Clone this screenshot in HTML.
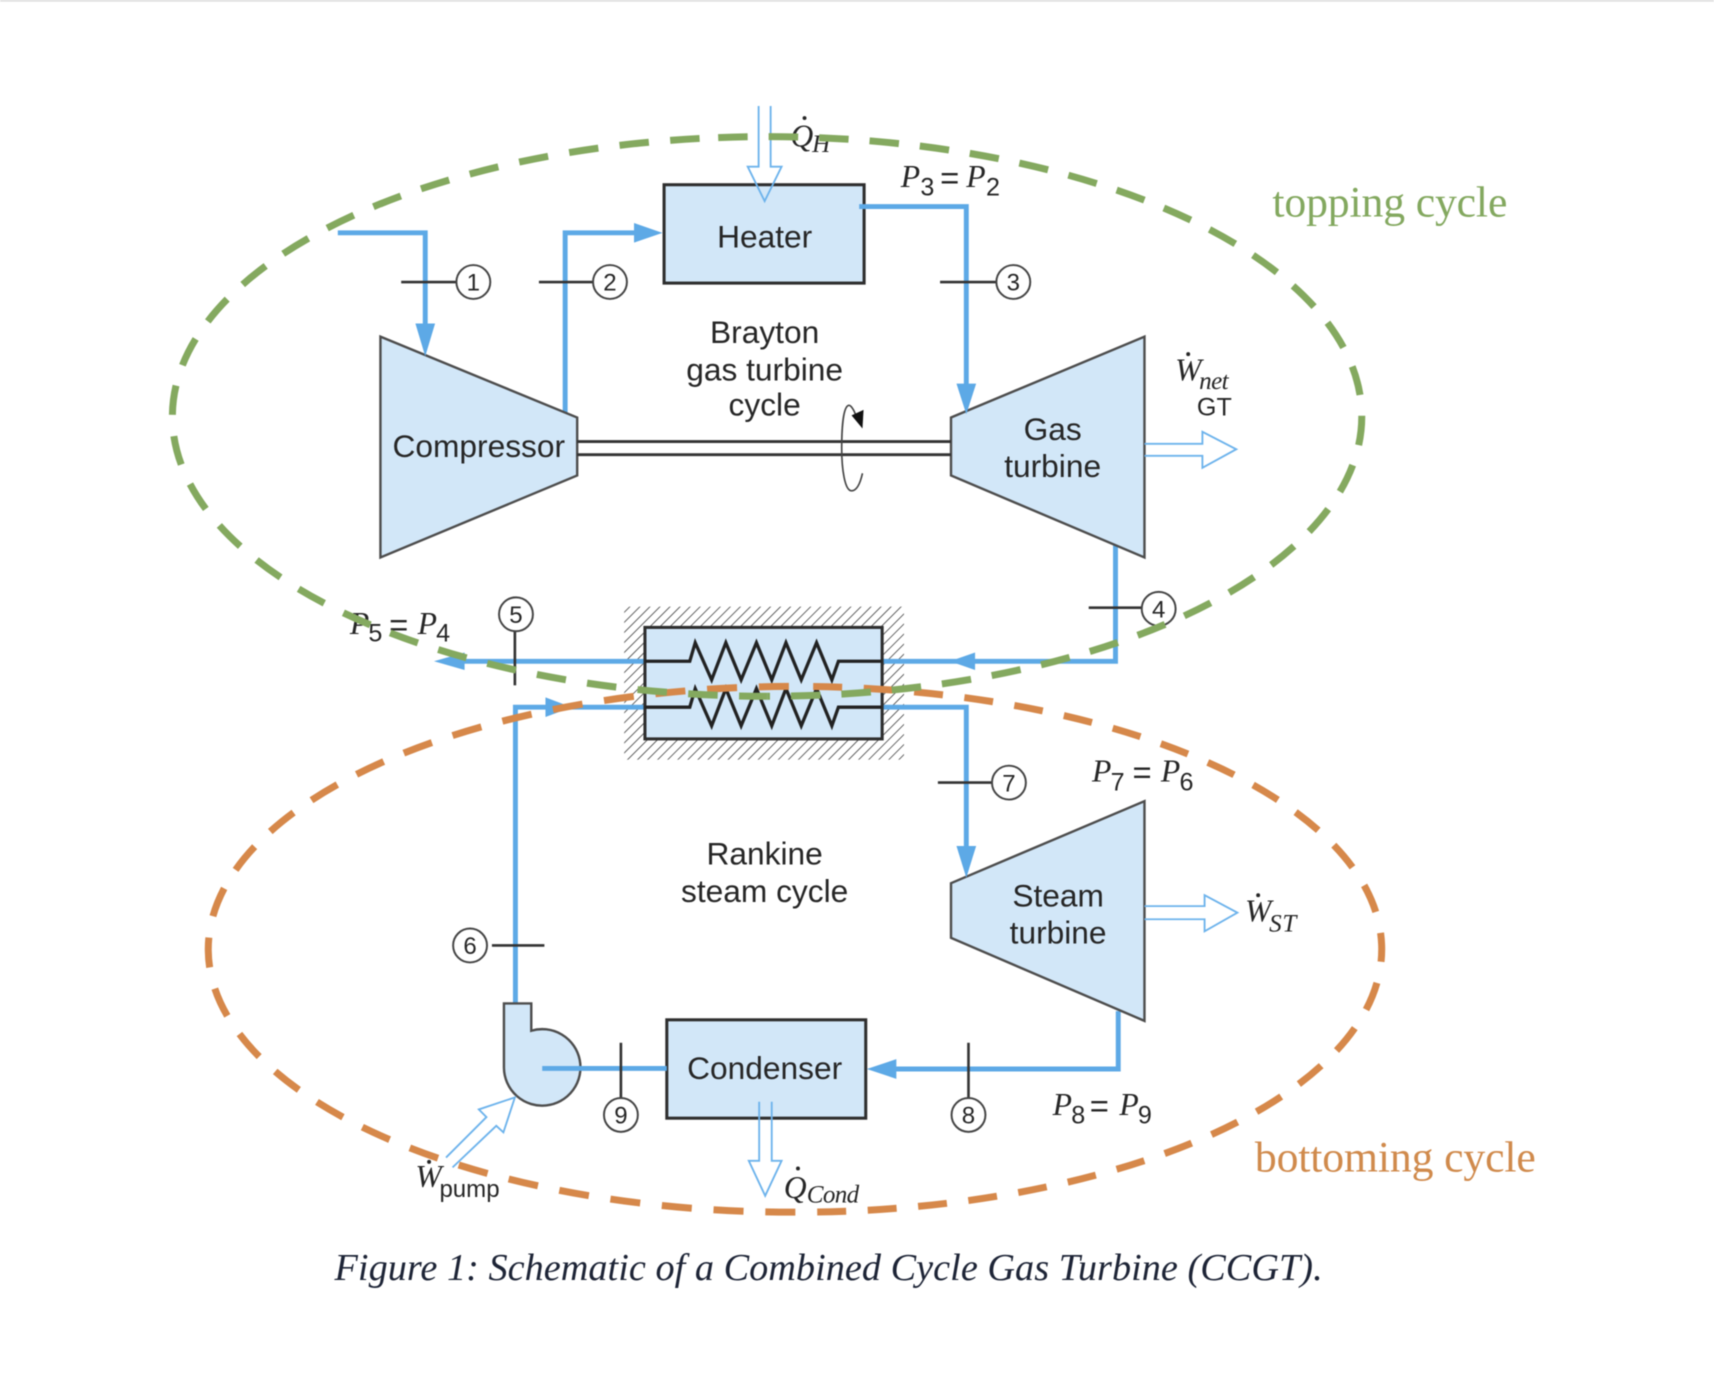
<!DOCTYPE html>
<html><head><meta charset="utf-8"><title>CCGT schematic</title>
<style>
html,body{margin:0;padding:0;background:#fff;width:1714px;height:1398px;overflow:hidden}
svg{display:block;filter:blur(.6px)}
.s{font-family:"Liberation Sans",sans-serif;fill:#262626}
.m{font-family:"Liberation Serif",serif;font-style:italic;fill:#262626}
.c{text-anchor:middle}
</style></head><body>
<svg xmlns="http://www.w3.org/2000/svg" width="1714" height="1398" viewBox="0 0 1568 1279">
<defs>
<pattern id="h" width="6.5" height="9" patternUnits="userSpaceOnUse" patternTransform="rotate(45)">
<line x1="0" y1="0" x2="0" y2="9" stroke="#444" stroke-width="1.5"/>
</pattern>
</defs>
<rect x="0" y="0" width="1568" height="1.5" fill="#ddd"/>

<!-- hatch -->
<rect x="571" y="555" width="256" height="140" fill="url(#h)"/>

<!-- blue under shapes -->
<g fill="none" stroke="#5DA9E6" stroke-width="4.5">
<path d="M517 382V213H585"/>
<path d="M1020.500 498V605H420"/>
<path d="M471.500 918V647H590"/>
<path d="M807 647H884V780"/>
<path d="M1023 925V978H815"/>
</g>

<!-- equipment -->
<g fill="#D2E7F8" stroke="#4d4d4d" stroke-width="2.2">
<polygon points="348,308 528,382 528,435 348,510"/>
<polygon points="870,382 1047,308 1047,510 870,435"/>
<polygon points="870,808 1047,733 1047,934 870,858"/>
<path d="M461 918H486V943A35 35 0 1 1 461 977Z"/>
</g>
<g fill="#D2E7F8" stroke="#2e2e2e" stroke-width="2.8">
<rect x="607.500" y="169" width="183" height="90"/>
<rect x="610" y="933" width="182" height="90"/>
<rect x="590" y="574" width="217" height="102"/>
</g>

<!-- shaft -->
<g stroke="#333" stroke-width="2.6">
<line x1="528" y1="404" x2="870" y2="404"/>
<line x1="528" y1="416" x2="870" y2="416"/>
</g>

<!-- hx coils -->
<g fill="none" stroke="#222" stroke-width="3">
<polyline points="590,605 631,605 636,588 651,622 664,588 678,622 692,588 706,622 719,588 733,622 747,588 761,622 767,605 807,605"/>
<polyline points="590,647 631,647 636,630 651,664 664,630 678,664 692,630 706,664 719,630 733,664 747,630 761,664 767,647 807,647"/>
</g>

<!-- rotation arrow -->
<path d="M784 384C782 375 778 370 776 371C771 373 770 395 770 410C770 430 773 449 779 449C784 449 787 442 789 433" fill="none" stroke="#444" stroke-width="1.5"/>
<polygon points="779,380 790,375 789,392" fill="#111"/>

<!-- blue above shapes -->
<g fill="none" stroke="#5DA9E6" stroke-width="4.5">
<path d="M309 213H389V300"/>
<path d="M786 189H884V355"/>
<path d="M496 977.500H610"/>
</g>
<g fill="#5DA9E6">
<polygon points="389,326 380,296 398,296"/>
<polygon points="606,213 580,204 580,222"/>
<polygon points="884,379 875,351 893,351"/>
<polygon points="884,803 875,774 893,774"/>
<polygon points="397,605 425,597 425,613"/>
<polygon points="869,605 892,597 892,613"/>
<polygon points="523,647 499,638 499,656"/>
<polygon points="793,978 820,969 820,987"/>
</g>

<!-- hollow arrows -->
<g fill="none" stroke="#6DB3EC" stroke-width="1.7">
<path d="M694 97V152.500H684L699.500 184L715 152.500H705V97"/>
<path d="M694.500 1008V1062H685L700 1094L715 1062H706V1008"/>
<path d="M1047 406H1100V395L1131 411L1100 428V417H1047"/>
<path d="M1047 829H1102V819L1132 835L1102 852V841H1047"/>
<path d="M408 1059L445 1022L438 1015L471 1004L460.500 1036L454 1030L414 1068"/>
</g>

<!-- tick marks -->
<g stroke="#333" stroke-width="2.4">
<line x1="367" y1="258" x2="418" y2="258"/>
<line x1="493" y1="258" x2="543" y2="258"/>
<line x1="860" y1="258" x2="911" y2="258"/>
<line x1="996" y1="556" x2="1045" y2="556"/>
<line x1="471" y1="578" x2="471" y2="627"/>
<line x1="450" y1="865" x2="498" y2="865"/>
<line x1="858" y1="716" x2="908" y2="716"/>
<line x1="886" y1="954" x2="886" y2="1005"/>
<line x1="568" y1="954" x2="568" y2="1005"/>
</g>
<g fill="#fff" stroke="#444" stroke-width="1.8">
<circle cx="433" cy="258" r="15.500"/>
<circle cx="558" cy="258" r="15.500"/>
<circle cx="927" cy="258" r="15.500"/>
<circle cx="1060" cy="557" r="15.500"/>
<circle cx="472" cy="562" r="15.500"/>
<circle cx="430" cy="865" r="15.500"/>
<circle cx="923" cy="716" r="15.500"/>
<circle cx="886" cy="1020" r="15.500"/>
<circle cx="568" cy="1020" r="15.500"/>
</g>
<g font-size="22">
<text x="433" y="266" class="s c">1</text>
<text x="558" y="266" class="s c">2</text>
<text x="927" y="266" class="s c">3</text>
<text x="1060" y="565" class="s c">4</text>
<text x="472" y="570" class="s c">5</text>
<text x="430" y="873" class="s c">6</text>
<text x="923" y="724" class="s c">7</text>
<text x="886" y="1028" class="s c">8</text>
<text x="568" y="1028" class="s c">9</text>
</g>

<!-- labels -->
<g font-size="29">
<text class="s c" x="699.500" y="226.500">Heater</text>
<text class="s c" x="438" y="418">Compressor</text>
<text class="s c" x="699.500" y="314">Brayton</text>
<text class="s c" x="699.500" y="348">gas turbine</text>
<text class="s c" x="699.500" y="380">cycle</text>
<text class="s c" x="963" y="402.500">Gas</text>
<text class="s c" x="963" y="436.500">turbine</text>
<text class="s c" x="699.500" y="791">Rankine</text>
<text class="s c" x="699.500" y="825">steam cycle</text>
<text class="s c" x="968" y="829.500">Steam</text>
<text class="s c" x="968" y="863">turbine</text>
<text class="s c" x="699.500" y="987">Condenser</text>
</g>
<text class="s" x="1095" y="380" font-size="23">GT</text>

<!-- math -->
<g font-size="29">
<text class="m" x="824" y="171">P</text><text class="s" x="842" y="179" font-size="23">3</text><text class="s" x="860" y="173" font-size="30">=</text><text class="m" x="884" y="171">P</text><text class="s" x="902" y="179" font-size="23">2</text>
<text class="m" x="320" y="580">P</text><text class="s" x="337" y="587" font-size="23">5</text><text class="s" x="356" y="582" font-size="30">=</text><text class="m" x="382" y="580">P</text><text class="s" x="399" y="587" font-size="23">4</text>
<text class="m" x="999" y="715">P</text><text class="s" x="1016" y="723" font-size="23">7</text><text class="s" x="1036" y="717" font-size="30">=</text><text class="m" x="1062" y="715">P</text><text class="s" x="1079" y="723" font-size="23">6</text>
<text class="m" x="963" y="1020">P</text><text class="s" x="980" y="1028" font-size="23">8</text><text class="s" x="997" y="1022" font-size="30">=</text><text class="m" x="1024" y="1020">P</text><text class="s" x="1041" y="1028" font-size="23">9</text>

<text class="m" x="1075" y="348">W</text><text class="m" x="1097" y="356" font-size="23" textLength="27">net</text>
<text class="m" x="1139" y="843">W</text><text class="m" x="1161" y="852" font-size="23" textLength="25">ST</text>
<text class="m" x="380" y="1086">W</text><text class="s" x="402" y="1095" font-size="22">pump</text>
<text class="m" x="723" y="134">Q</text><text class="m" x="743" y="139" font-size="23" textLength="16">H</text>
<text class="m" x="717" y="1096">Q</text><text class="m" x="738" y="1100" font-size="23" textLength="48">Cond</text>
</g>
<g fill="#262626">
<circle cx="1087" cy="324" r="1.800"/>
<circle cx="1151" cy="819" r="1.800"/>
<circle cx="392.500" cy="1063" r="1.800"/>
<circle cx="736" cy="108" r="1.800"/>
<circle cx="730" cy="1069" r="1.800"/>
</g>

<!-- cycle labels -->
<text x="1164" y="198" font-family="'Liberation Serif',serif" font-size="40" fill="#83A85F" textLength="215">topping cycle</text>
<text x="1148" y="1072" font-family="'Liberation Serif',serif" font-size="40" fill="#D08A4C" textLength="257">bottoming cycle</text>

<!-- dashed ellipses -->
<g fill="none" stroke-width="6.400">
<path d="M727.600 1109A535 240.500 0 0 1 723 628" stroke="#D6884A" stroke-dasharray="27.500 19.930"/>
<path d="M747.600 1108.840A536 240.500 0 0 0 728 628" stroke="#D6884A" stroke-dasharray="26.500 19.740"/>
<path d="M640 126.650A544 256 0 0 0 702 637" stroke="#84A95F" stroke-dasharray="27 19.550"/>
<path d="M657 125.870A544 256 0 1 1 702 637" stroke="#84A95F" stroke-dasharray="27 19.200"/>
</g>

<!-- caption -->
<text x="306" y="1171" font-family="'Liberation Serif',serif" font-style="italic" font-size="35" fill="#1d2436" textLength="904">Figure 1: Schematic of a Combined Cycle Gas Turbine (CCGT).</text>
</svg>
</body></html>
